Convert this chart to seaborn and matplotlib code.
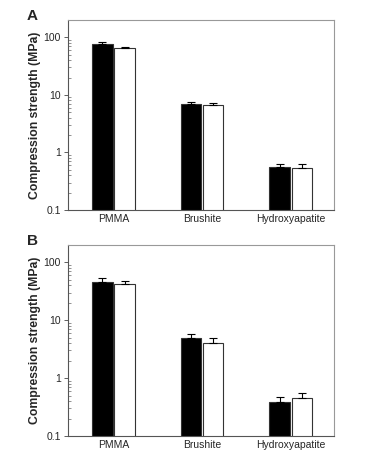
import numpy as np
import pandas as pd
import matplotlib
matplotlib.use("Agg")
import matplotlib.pyplot as plt
import seaborn as sns
from matplotlib.ticker import LogLocator, FixedLocator, FixedFormatter, NullFormatter

categories = ["PMMA", "Brushite", "Hydroxyapatite"]
groups = ["filled", "open"]

# Panel A
a_filled = [77, 6.9, 0.56]
a_filled_err = [6, 0.6, 0.075]
a_open = [65, 6.6, 0.54]
a_open_err = [2.5, 0.5, 0.09]

# Panel B
b_filled = [46, 4.9, 0.39]
b_filled_err = [8, 1.0, 0.08]
b_open = [41.5, 4.1, 0.445]
b_open_err = [5.5, 0.9, 0.115]

yticks = [0.1, 1, 10, 100]
yticklabels = ["0.1", "1", "10", "100"]

sns.set_theme(style="white")
plt.rcParams["font.family"] = ["Liberation Sans", "DejaVu Sans"]

fig = plt.figure(figsize=(3.8, 4.57), dpi=100)
axA = fig.add_axes([0.179, 0.5405, 0.700, 0.4158])
axB = fig.add_axes([0.179, 0.046, 0.700, 0.418])


def draw(ax, filled, ferr, opened, oerr, label):
    df = pd.DataFrame({
        "cat": categories * 2,
        "grp": [groups[0]] * 3 + [groups[1]] * 3,
        "val": list(filled) + list(opened),
        "err": list(ferr) + list(oerr),
    })
    sns.barplot(data=df, x="cat", y="val", hue="grp", order=categories,
                hue_order=groups, palette={"filled": "black", "open": "white"},
                width=0.5, gap=0.08, errorbar=None, legend=False, ax=ax,
                edgecolor="#333333", linewidth=0.8, log_scale=(False, True))
    patches = [p for p in ax.patches]
    for p, (v, e) in zip(patches, zip(df["val"], df["err"])):
        xc = p.get_x() + p.get_width() / 2
        ax.errorbar([xc], [v], yerr=[[0], [e]], fmt="none", ecolor="black",
                    elinewidth=0.8, capsize=3, capthick=0.8)
    ax.set_yscale("log")
    ax.set_ylim(0.1, 200)
    ax.set_xlim(-0.514, 2.49)
    ax.yaxis.set_major_locator(FixedLocator(yticks))
    ax.yaxis.set_major_formatter(FixedFormatter(yticklabels))
    ax.yaxis.set_minor_locator(LogLocator(base=10, subs=np.arange(2, 10)))
    ax.yaxis.set_minor_formatter(NullFormatter())
    ax.tick_params(axis="y", which="major", direction="out", length=3, width=0.6,
                   labelsize=7.5, pad=2, left=True, color="#444444")
    ax.tick_params(axis="y", which="minor", direction="in", length=2, width=0.5,
                   left=True, color="#666666")
    ax.tick_params(axis="x", length=0, labelsize=7.5, pad=3)
    ax.set_xlabel("")
    ax.set_ylabel("Compression strength (MPa)", fontsize=8.8, fontweight="bold",
                  labelpad=2)
    for s in ax.spines.values():
        s.set_color("#999999")
        s.set_linewidth(0.8)
    ax.spines["left"].set_color("#555555")
    ax.spines["bottom"].set_color("#555555")
    ax.text(-0.155, 1.0, label, transform=ax.transAxes, fontsize=11,
            fontweight="bold", ha="left", va="baseline")


draw(axA, a_filled, a_filled_err, a_open, a_open_err, "A")
draw(axB, b_filled, b_filled_err, b_open, b_open_err, "B")

fig.savefig("out.png", dpi=100)
